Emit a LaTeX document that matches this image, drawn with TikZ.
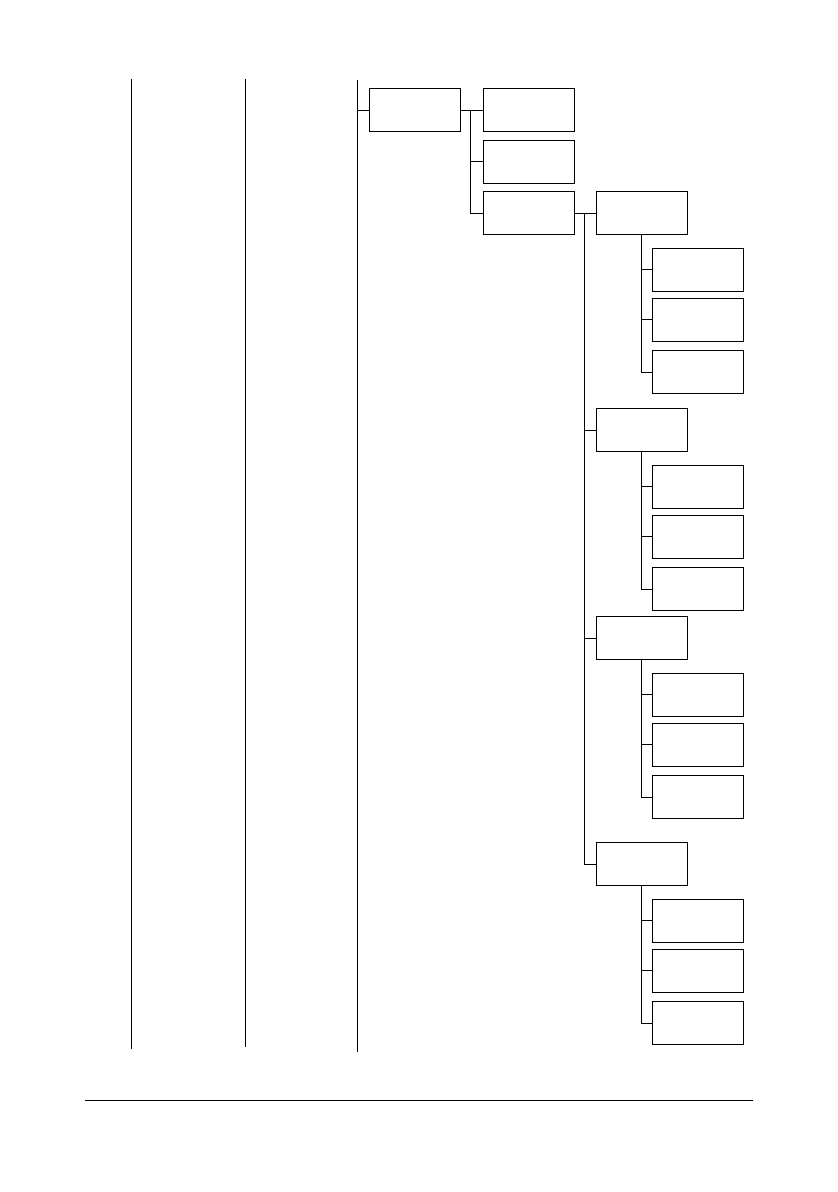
\documentclass[tikz,border=0pt]{standalone}
\usetikzlibrary{positioning, calc}
\begin{document}
\begin{tikzpicture}[x=1pt, y=-1pt, line width=1pt,
    box/.style={draw, minimum width=91pt, minimum height=43pt, inner sep=0pt}]
    \useasboundingbox (0,0) rectangle (838,1192);
    % column rules
    \coordinate (col1t) at (131,79);   \coordinate (col1b) at (131,1049);
    \coordinate (col2t) at (245.5,79); \coordinate (col2b) at (245.5,1047);
    \coordinate (col3t) at (357.5,80); \coordinate (col3b) at (357.5,1052);
    \draw (col1t) -- (col1b);
    \draw (col2t) -- (col2b);
    \draw (col3t) -- (col3b);
    % top level
    \node[box] (menu) at (415,110) {};
    \node[box] (sub1) at (529,110) {};
    \node[box] (sub2) at (528.5,161.5) {};
    \node[box] (sub3) at (528.5,213) {};
    \draw (col3t |- menu.west) -- (menu.west);
    \coordinate (fork) at (470.5,110);
    \draw (menu.east) -- (sub1.west);
    \draw (fork) |- (sub3.west);
    \draw (fork |- sub2.west) -- (sub2.west);
    % groups with three items each
    \foreach \g/\y in {1/213, 2/430, 3/638, 4/864} {
        \node[box] (grp\g) at (641.5,\y) {};
        \node[box] (it\g1) at ($(grp\g)+(56.5,56.5)$) {};
        \node[box] (it\g2) at ($(grp\g)+(56.5,106.5)$) {};
        \node[box] (it\g3) at ($(grp\g)+(56.5,159)$) {};
        \draw (grp\g.south) |- (it\g3.west);
        \draw (grp\g.south |- it\g1.west) -- (it\g1.west);
        \draw (grp\g.south |- it\g2.west) -- (it\g2.west);
    }
    \coordinate (trunk) at (584.5,213);
    \draw (sub3.east) -- (grp1.west);
    \draw (trunk) |- (grp4.west);
    \draw (trunk |- grp2.west) -- (grp2.west);
    \draw (trunk |- grp3.west) -- (grp3.west);
    % page rule
    \coordinate (rulel) at (85,1100); \coordinate (ruler) at (753,1100);
    \draw (rulel) -- (ruler);
\end{tikzpicture}
\end{document}
